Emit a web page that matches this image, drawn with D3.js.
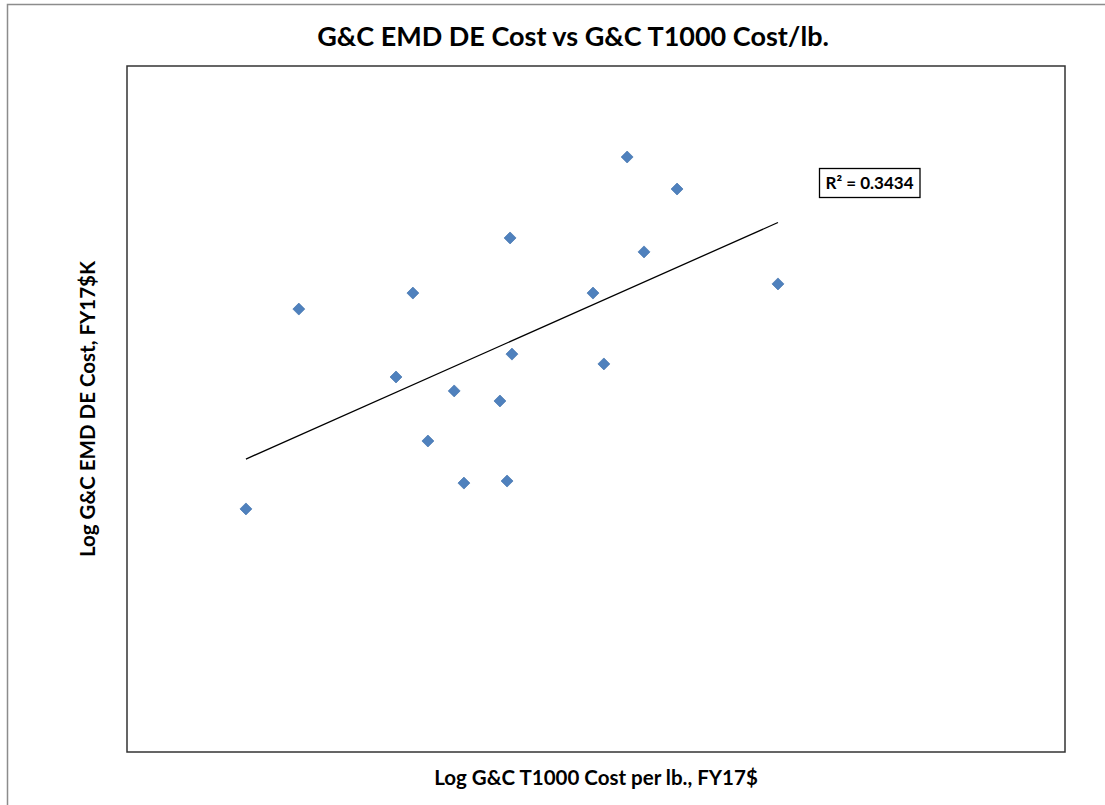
<meta charset="utf-8">
<body>
</body>
<script src="https://d3js.org/d3.v7.min.js"></script>
<script>
// log T1000 cost per lb (x) and log EMD DE cost (y)
var logCostPerLb = [0.317, 0.458, 0.717, 0.762, 0.802, 0.872, 0.898, 0.994, 1.013,
                    1.021, 1.026, 1.242, 1.271, 1.333, 1.378, 1.466, 1.735];
var logEmdCost   = [2.563, 3.437, 3.140, 3.507, 2.860, 3.079, 2.676, 3.035, 2.685,
                    3.748, 3.240, 3.507, 3.197, 4.102, 3.687, 3.962, 3.547];
var rSquaredLabel = "R² = 0.3434";

var chartTitle = "G&C EMD DE Cost vs G&C T1000 Cost/lb.";
var xTitle = "Log G&C T1000 Cost per lb., FY17$";
var yTitle = "Log G&C EMD DE Cost, FY17$K";

// plot box (window.top is taken, so no "top")
var pL = 127, pT = 66, pR = 1065, pB = 752;

var svg = d3.select("body")
  .append("svg")
  .attr("width", 1105)
  .attr("height", 805)

// outer chart frame, runs off the picture to the right and bottom
svg.append("rect")
  .attr("x", 7.5)
  .attr("y", 4.5)
  .attr("width", 1300)
  .attr("height", 1300)
  .attr("fill", "#fff")
  .attr("stroke", "#8c8c8c")
  .attr("stroke-width", 1.5)

var x = d3.scaleLinear().domain([0, 2.5]).range([pL, pR]);
var y = d3.scaleLinear().domain([1.5, 4.5]).range([pB, pT]);

svg.append("rect")
  .attr("x", pL)
  .attr("y", pT)
  .attr("width", pR - pL)
  .attr("height", pB - pT)
  .attr("fill", "none")
  .attr("stroke", "#333")
  .attr("stroke-width", 1.5)

// least squares trend line
var mx = d3.mean(logCostPerLb), my = d3.mean(logEmdCost);
var sxy = d3.sum(logCostPerLb, function(d,i) { return (d-mx)*(logEmdCost[i]-my); });
var sxx = d3.sum(logCostPerLb, function(d) { return (d-mx)*(d-mx); });
var slope = sxy/sxx, icpt = my - slope*mx;
var ext = d3.extent(logCostPerLb);

svg.append("line")
  .attr("x1", x(ext[0]))
  .attr("y1", y(icpt + slope*ext[0]))
  .attr("x2", x(ext[1]))
  .attr("y2", y(icpt + slope*ext[1]))
  .attr("stroke", "#000")
  .attr("stroke-width", 1.3)

svg.selectAll("path.pt")
  .data(logCostPerLb)
  .enter().append("path")
  .attr("class", "pt")
  .attr("d", d3.symbol().type(d3.symbolSquare).size(72))
  .attr("transform", function(d,i) { return "translate(" + x(d) + "," + y(logEmdCost[i]) + ") rotate(45)"; })
  .attr("fill", "#4f81bd")
  .attr("stroke", "#3f70ab")
  .attr("stroke-width", 0.6)

// R² label box
var lbl = svg.append("g").attr("transform", "translate(819.5,168.5)");
lbl.append("rect")
  .attr("width", 100.5)
  .attr("height", 29)
  .attr("fill", "#fff")
  .attr("stroke", "#000")
  .attr("stroke-width", 1.3)
lbl.append("text")
  .attr("x", 50)
  .attr("y", 20.5)
  .attr("text-anchor", "middle")
  .attr("class", "r2")
  .text(rSquaredLabel)

svg.append("text")
  .attr("class", "title")
  .attr("x", 573)
  .attr("y", 46)
  .attr("text-anchor", "middle")
  .text(chartTitle)

svg.append("text")
  .attr("class", "axt")
  .attr("x", (pL + pR)/2)
  .attr("y", 785)
  .attr("text-anchor", "middle")
  .text(xTitle)

svg.append("text")
  .attr("class", "axt")
  .attr("transform", "translate(95," + (pT + pB)/2 + ") rotate(-90)")
  .attr("text-anchor", "middle")
  .text(yTitle)
</script>
<style>
body {
  margin: 0;
}
svg text {
  font-family: Lato, "Open Sans", sans-serif;
  font-weight: bold;
  fill: #000;
}
.title {
  font-size: 27px;
}
.axt {
  font-size: 20.5px;
}
.r2 {
  font-size: 17px;
}
</style>
